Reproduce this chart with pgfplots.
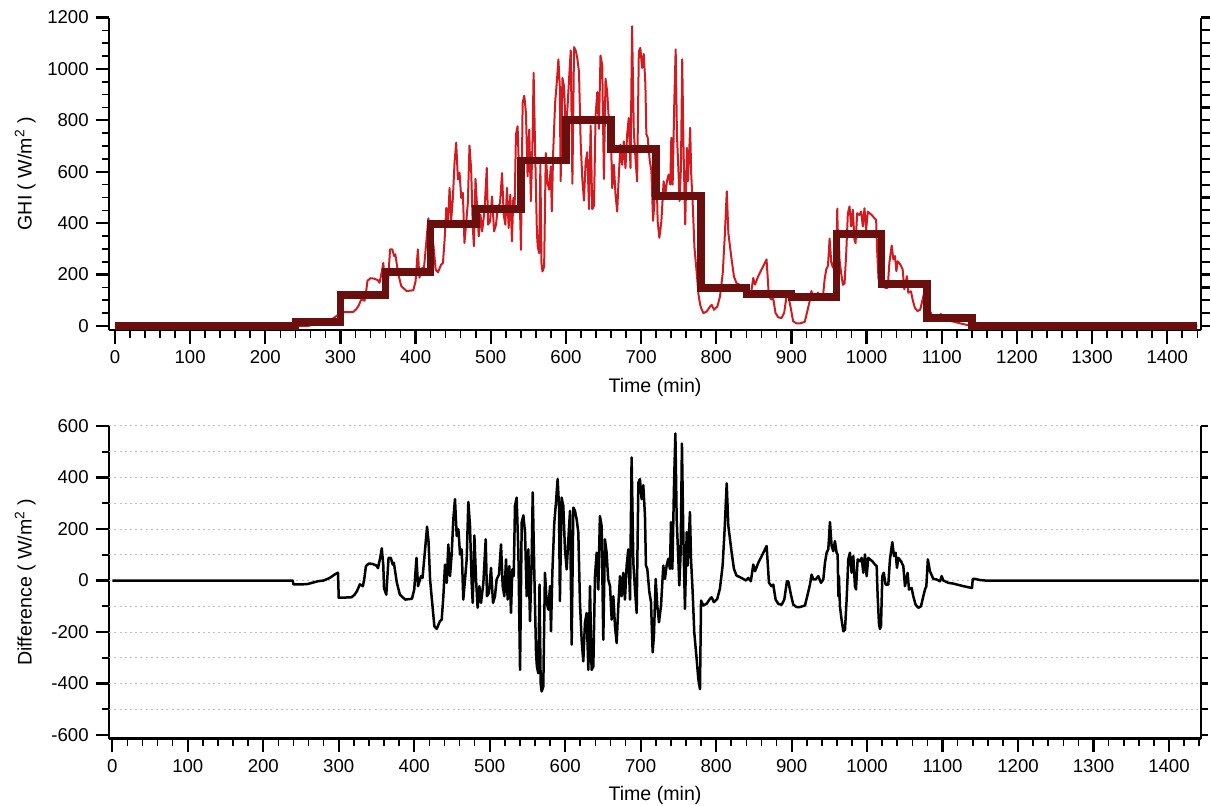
\documentclass[border=0pt]{standalone}
\usepackage{fontspec}
\setmainfont{Liberation Sans}
\usepackage{pgfplots}
\usepackage{pgfplotstable}
\pgfplotsset{compat=1.18}

\definecolor{ghired}{RGB}{208,28,32}
\definecolor{stepred}{RGB}{106,14,14}

% minute data: t, difference to hourly mean, GHI
\pgfplotstableread{
t diff ghi
0 0 0
239 0 0
240 -15 0
250 -15 0
258 -14 1
266 -8 7
272 -3 12
280 0 15
288 10 25
293 20 35
296 26 41
299 30 45
300 -67 53
310 -66 54
317 -65 55
321 -55 65
324 -42 78
328 -15 105
332 -22 98
334 10 130
336 56 176
340 66 186
345 64 184
350 58 178
352 48 168
355 90 210
357 125 245
359 60 180
360 -30 180
363 -55 155
366 88 298
369 88 298
371.5 62 272
373 69 279
377 -9 201
381 -55 155
388 -74 136
397 -71 139
400 -35 175
403 88 298
405 -22 188
409 17 227
411 10 220
414 108 318
417 209 419
419 150 360
421 4 401
423 -61 336
426.7 -178 219
429.8 -188 209
434 -158 239
436.4 -152 245
438.6 -61 336
440.8 62 459
443 -9 388
445.2 140 537
447.4 17 414
449.6 101 498
451.8 238 635
454 316 713
456.3 173 570
458.5 199 596
460.7 101 498
462.9 121 518
465 -74 323
467.3 4 401
469.5 82 479
471.7 305 702
473.9 212 609
476.1 -9 388
477.5 -87 310
479.7 175 572
481.9 4 459
484 -106 349
486.3 -22 433
488.5 -87 368
491.6 -9 446
494.7 160 615
496.4 -61 394
499 -48 407
501.7 49 504
504.4 -87 368
507 -61 394
509.2 4 459
512.3 23 478
515 140 595
517.2 -22 433
519.4 -61 394
521.6 82 537
523.8 -74 381
526 56 511
528.2 -126 329
530 43 498
531.8 17 472
533.5 290 745
535.7 322 777
538 108 563
540.2 -347 296
542.4 225 868
544.6 253 896
546.8 186 829
549 -61 582
551.2 121 764
553.4 -158 485
555.6 82 725
557 342 985
559.1 30 673
561.4 -282 361
562.5 -334 309
564.4 -360 283
566 -16 627
567.5 -400 243
568.8 -431 212
571 -412 231
573.2 30 673
575.5 -87 556
577.7 -113 530
579.9 -22 621
581.2 -197 446
583 30 673
585.6 225 868
587.8 303 946
590 394 1037
591.8 290 933
593 -80 563
595.3 322 965
597.5 290 933
599.7 121 764
602 43 845
604.2 160 962
606.4 270 1072
608.6 -249 553
610.8 283 1085
613 270 1072
615.2 238 1040
617.4 186 988
619.6 -87 715
621.8 -230 572
624 -314 488
626.2 -165 637
628.4 -126 676
630.7 -347 455
632.9 -22 780
635 -347 455
637.3 -334 468
639.5 17 819
641.7 108 910
643.9 -35 767
646 250 1052
648.3 212 1014
650.5 -230 572
652.7 160 962
654.9 108 910
657 4 806
659.4 -22 780
661.6 -152 536
663.8 -61 627
666 -178 510
668.2 -243 445
670.4 -100 588
672.6 17 705
674.8 -61 627
677 30 718
679.2 -74 614
681.4 56 744
683.6 121 809
685.9 -74 614
688 478 1166
690.3 69 757
692.5 -35 653
694.7 -126 562
697 380 1068
699 394 1082
701.3 316 1004
703.5 370 1058
705.7 253 941
707 58 746
708.8 45 733
711.5 -45 643
713.7 -84 604
715.9 -279 409
717.6 -214 474
719.9 6 694
722 -97 408
724.3 -162 343
727 -97 408
730 58 563
732.2 6 511
734.4 58 563
736.6 84 589
738.8 45 550
740.2 227 732
742 45 550
744.2 370 875
746 571 1076
747.7 240 745
749.9 84 589
751.2 -19 486
753 110 615
754.7 532 1037
756.5 175 680
758.7 -110 395
761 188 693
762.3 58 563
764 175 680
765.3 266 771
766.7 84 589
768.9 -45 460
771 -201 304
774.2 -305 200
776.4 -383 122
778.6 -422 83
780 -78 69
783 -97 50
787.4 -90 57
791.8 -71 76
794 -65 82
797 -84 63
801.5 -71 76
805 -32 115
808.6 58 205
811.3 201 348
814 377 524
816.1 214 361
818.3 162 309
820.5 110 257
823.6 45 192
827 19 166
831.6 13 160
836 6 153
839.5 0 147
842.6 10 135
846 -3 122
849.2 62 187
851.5 36 161
855.9 69 194
860.3 95 220
864.7 121 246
866.9 134 259
870 -9 116
873.5 -22 103
875.7 -16 109
878.8 -74 51
882.4 -91 34
886.8 -94 31
890.3 -74 51
893.8 -3 122
895.6 -3 122
899.1 -55 70
902.2 -94 19
906.6 -103 10
911 -103 10
917.7 -97 16
921.2 -55 58
924.3 -16 97
926.5 23 136
928.7 4 117
931.8 4 117
935.4 17 130
938.9 -9 104
942 4 117
944.2 69 182
946.4 108 221
948.6 121 234
950.8 227 340
953 134 247
955.2 114 227
957.4 153 266
959.6 108 221
961 100 457
962 -61 296
962.7 17 374
964 -100 257
966.2 -152 205
968.5 -197 160
970.7 -191 166
972.9 -74 283
975.1 82 439
977.3 108 465
979.5 30 387
981.7 95 452
983.9 -22 335
985.3 -35 322
987.5 82 439
990.5 75 432
992.8 88 445
995 30 387
997.2 101 458
999.4 17 374
1001.6 88 445
1003.8 82 439
1006.9 75 432
1010.4 62 419
1012.7 56 413
1014 -61 296
1015.8 -171 186
1017.1 -188 169
1018.4 -178 179
1020.2 17 181
1022 30 194
1024.6 -16 148
1028.1 -16 148
1030.3 82 246
1033.4 149 313
1035.6 95 259
1037.8 108 272
1039.6 49 213
1041.4 88 252
1044.9 75 239
1048 56 220
1050.2 -22 142
1053.7 30 194
1055.5 -35 129
1059 -29 135
1061.2 -61 103
1064.3 -94 70
1067.9 -106 58
1071.4 -100 64
1074.5 -61 103
1076.7 -35 129
1078.5 -22 142
1080.5 82 112
1083.3 36 66
1087.7 6 36
1092.1 4 34
1096.6 -3 27
1098.8 17 47
1101 0 30
1107.6 -9 21
1114.2 -12 18
1120.8 -17 13
1127.5 -22 8
1134.1 -26 4
1139 -29 1
1140 6 6
1143 6 6
1149.5 2 2
1156 0 0
1163 0 0
1440 0 0
}\ghidata

\begin{document}
\begin{tikzpicture}
\pgfplotsset{
  panel/.style={
    scale only axis, width=545.7pt, height=156.25pt,
    /pgf/number format/assume math mode=true,
    /pgf/number format/1000 sep={},
    tick label style={font=\fontsize{9.3}{10}\selectfont},
    label style={font=\fontsize{9.8}{11}\selectfont},
    tick align=outside,
    axis line style={line width=1.1pt, black},
    major tick style={line width=1.1pt, black},
    minor tick style={line width=0.8pt, black},
    major tick length=6.8pt, minor tick length=3.8pt,
  },
  mainpanel/.style={
    panel,
    axis x line*=bottom, axis y line*=left,
    xtick={0,100,...,1400}, minor xtick={0,20,...,1440},
    xlabel={Time (min)},
    xlabel style={at={(axis description cs:0.5,0)}, anchor=center, yshift=-28.5pt},
    ylabel style={at={(axis description cs:-0.077,0.5)}, anchor=center},
  },
  rightpanel/.style={
    panel,
    axis x line=none, axis y line*=right,
    yticklabels={}, minor tick length=0pt,
  },
}

% top panel: GHI and hourly mean
\begin{axis}[mainpanel, name=top, at={(0,0)}, anchor=south west,
  xmin=-7.5, xmax=1444.5, ymin=-15.6, ymax=1200,
  ytick={0,200,...,1200}, minor ytick={0,50,...,1200},
  ylabel={GHI ( W/m\textsuperscript{2} )}]
\addplot[ghired, line width=1pt, line join=round] table[x=t, y=ghi] {\ghidata};
\addplot[stepred, line width=3.8pt, const plot] coordinates {
(0,0) (240,15) (300,120) (360,210) (420,397) (480,455) (540,643) (600,802)
(660,688) (720,505) (780,147) (840,125) (900,113) (960,357) (1020,164)
(1080,30) (1140,0) (1440,0)};
\end{axis}
\begin{axis}[rightpanel, at={(0,0)}, anchor=south west,
  xmin=-7.5, xmax=1444.5, ymin=-15.6, ymax=1200,
  ytick={0,50,...,1200}, major tick length=4.5pt]
\end{axis}

% bottom panel: difference
\begin{axis}[mainpanel, name=bot, at={(0,-204.25pt)}, anchor=south west,
  xmin=-4, xmax=1442, ymin=-613.6, ymax=600,
  ytick={-600,-400,...,600}, minor ytick={-500,-300,...,500},
  extra y ticks={-500,-400,...,600}, extra y tick labels={},
  extra y tick style={grid=major, major tick length=0pt,
    major grid style={gray!50, line width=0.5pt, dash pattern=on 1pt off 1.6pt}},
  ylabel={Difference ( W/m\textsuperscript{2} )}]
\addplot[black, line width=1.25pt, line join=round] table[x=t, y=diff] {\ghidata};
\end{axis}
\begin{axis}[rightpanel, at={(0,-204.25pt)}, anchor=south west,
  xmin=-4, xmax=1442, ymin=-613.6, ymax=600,
  ytick={-600,-500,...,600}, major tick length=3.5pt]
\end{axis}

\pgfresetboundingbox
\path[use as bounding box] (-54.65pt,-237.5pt) rectangle (550.85pt,165pt);
\end{tikzpicture}
\end{document}
